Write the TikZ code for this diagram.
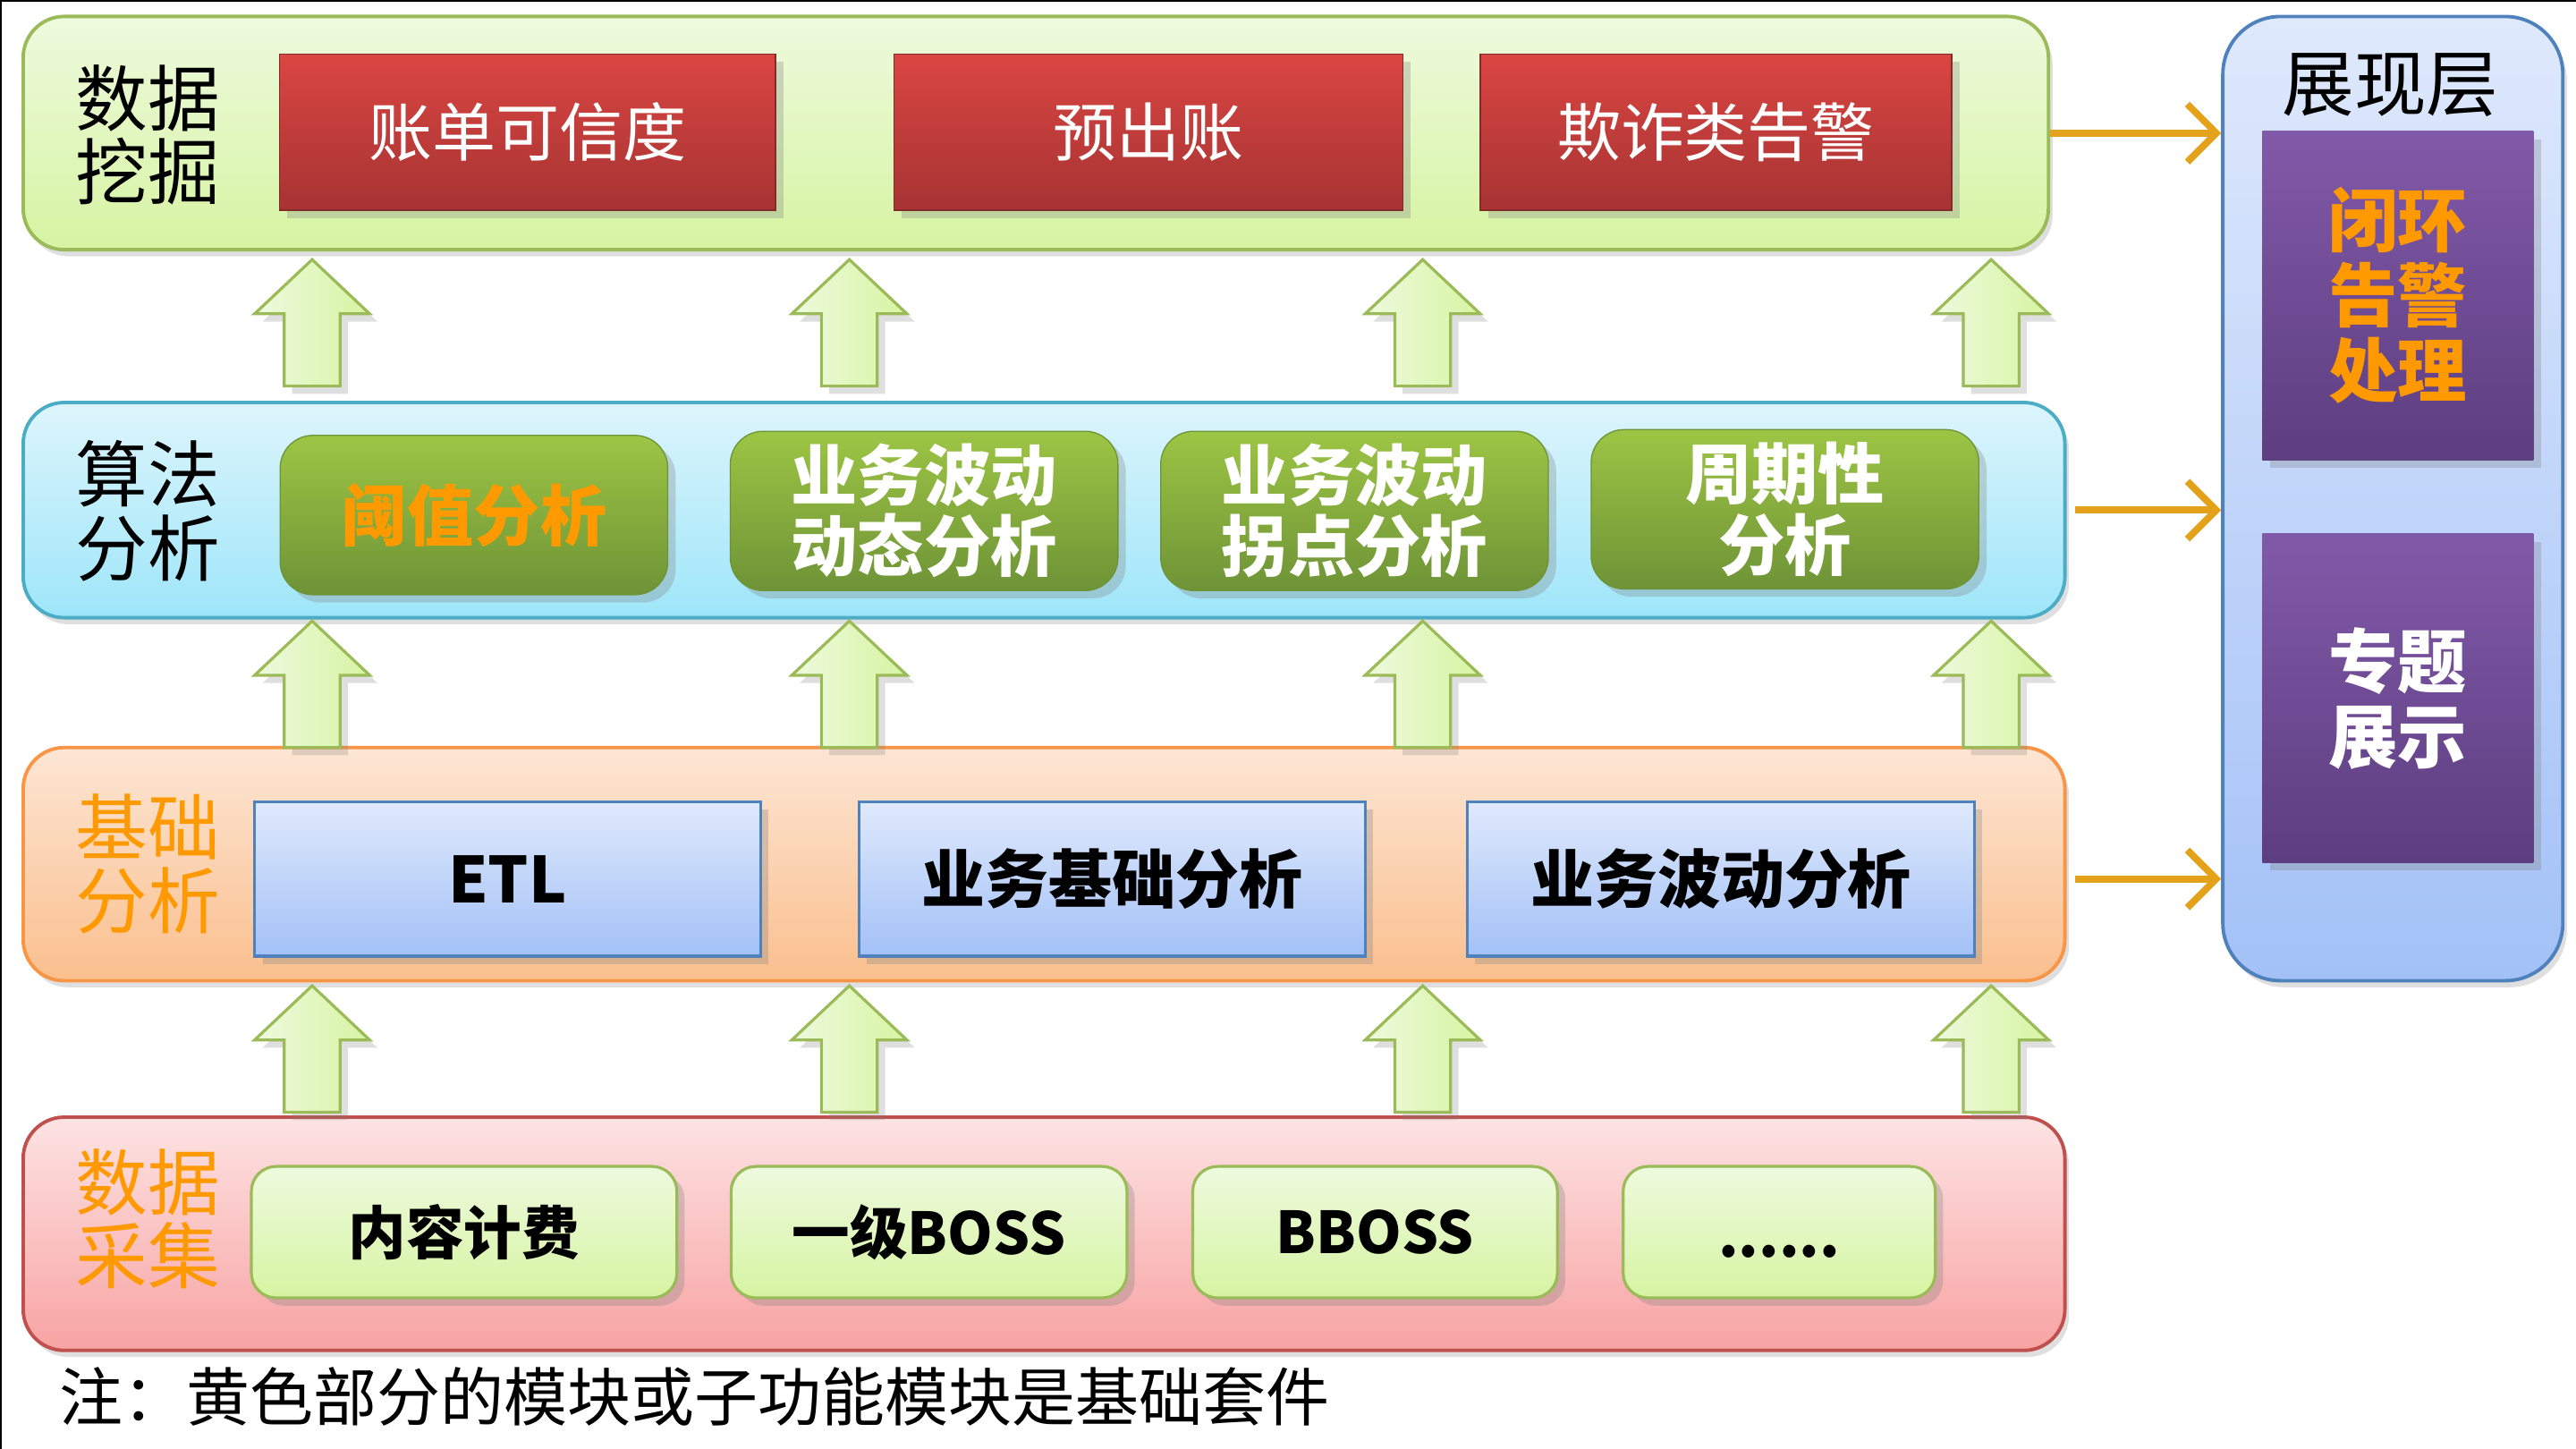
\documentclass[tikz,border=0pt]{standalone}
\usepackage{fontspec}
\setmainfont{Noto Sans CJK SC}
\usetikzlibrary{positioning, shadows, arrows.meta, calc}

\definecolor{minetop}{HTML}{EEFADE}
\definecolor{minebot}{HTML}{D6F4A2}
\definecolor{mineline}{HTML}{9BBB59}
\definecolor{redtop}{HTML}{DA4642}
\definecolor{redbot}{HTML}{A63333}
\definecolor{algotop}{HTML}{DDF5FC}
\definecolor{algobot}{HTML}{9EE6FA}
\definecolor{algoline}{HTML}{4BACC6}
\definecolor{olivetop}{HTML}{9DC544}
\definecolor{olivebot}{HTML}{6E9337}
\definecolor{baseline}{HTML}{F79646}
\definecolor{basetop}{HTML}{FDE6D4}
\definecolor{basebot}{HTML}{FABF8E}
\definecolor{bluetop}{HTML}{DFE9FC}
\definecolor{bluebot}{HTML}{A3C1F7}
\definecolor{blueline}{HTML}{4F81BD}
\definecolor{pinktop}{HTML}{FDE3E3}
\definecolor{pinkbot}{HTML}{F8A3A3}
\definecolor{pinkline}{HTML}{C0504D}
\definecolor{purptop}{HTML}{8159A9}
\definecolor{purpbot}{HTML}{5D3E80}
\definecolor{tagorange}{HTML}{FF9900}
\definecolor{goldarrow}{HTML}{E3A21A}

\begin{document}
\begin{tikzpicture}[
    x=0.02cm, y=-0.02cm,
    layer/.style={rectangle, rounded corners=0.5cm, draw, line width=1.2pt, drop shadow={opacity=0.25, shadow xshift=0.05cm, shadow yshift=-0.08cm}},
    tag/.style={align=center, font=\fontsize{25pt}{25.5pt}\selectfont},
    redbox/.style={rectangle, draw=redbot!80!black, top color=redtop, bottom color=redbot, minimum height=1.9cm, text=white, font=\fontsize{22pt}{24pt}\selectfont, drop shadow={opacity=0.3}},
    olivebox/.style={rectangle, rounded corners=0.4cm, draw=olivebot, top color=olivetop, bottom color=olivebot, minimum width=4.72cm, minimum height=1.94cm, align=center, text=white, font=\fontsize{23pt}{24.5pt}\selectfont\bfseries, drop shadow={opacity=0.3}},
    bluebox/.style={rectangle, draw=blueline, line width=1pt, top color=bluetop, bottom color=bluebot, minimum height=1.88cm, font=\fontsize{22pt}{24pt}\selectfont\bfseries, drop shadow={opacity=0.3}},
    srcbox/.style={rectangle, rounded corners=0.3cm, draw=mineline, line width=1pt, top color=minetop, bottom color=minebot, minimum height=1.6cm, font=\fontsize{20pt}{22pt}\selectfont\bfseries, drop shadow={opacity=0.3}},
    purpbox/.style={rectangle, top color=purptop, bottom color=purpbot, minimum width=3.3cm, minimum height=4cm, align=center, font=\fontsize{24pt}{26pt}\selectfont\bfseries, drop shadow={opacity=0.3}},
    feed/.style={draw=goldarrow, line width=2.4pt, -{Straight Barb[length=10pt, width=20pt, line width=2.4pt]}},
    upblock/.pic={
        \draw[draw=mineline, line width=1pt, left color=minetop, right color=minebot, drop shadow={opacity=0.25}]
            (-17,0) -- (17,0) -- (17,-44) -- (35,-44) -- (0,-77) -- (-35,-44) -- (-17,-44) -- cycle;
    }
]
    \useasboundingbox (0,0) rectangle (1568,882);
    \fill[white] (0,0) rectangle (1568,882);
    \draw[line width=1.5pt] (0,0) -- (1568,0);
    \draw[line width=1.5pt] (0,0) -- (0,882);

    % Layers
    \node [layer, draw=mineline, top color=minetop, bottom color=minebot, minimum width=24.66cm, minimum height=2.84cm] (mine) at (630.5,81) {};
    \node [layer, draw=algoline, top color=algotop, bottom color=algobot, minimum width=24.86cm, minimum height=2.62cm] (algo) at (635.5,310.5) {};
    \node [layer, draw=baseline, top color=basetop, bottom color=basebot, minimum width=24.86cm, minimum height=2.84cm] (base) at (635.5,526) {};
    \node [layer, draw=pinkline, top color=pinktop, bottom color=pinkbot, minimum width=24.86cm, minimum height=2.84cm] (collect) at (635.5,751) {};
    \node [layer, rounded corners=0.7cm, draw=blueline, top color=bluetop, bottom color=bluebot, minimum width=4.14cm, minimum height=11.74cm] (show) at (1456.5,303.5) {};

    % Layer names
    \node [tag] (minetag) at (90,82) {数据\\挖掘};
    \node [tag] (algotag) at (90,311) {算法\\分析};
    \node [tag, text=tagorange] (basetag) at (90,526) {基础\\分析};
    \node [tag, text=tagorange] (collecttag) at (90,742) {数据\\采集};
    \node [tag] (showtag) at (1455,52) {展现层};

    % Data mining
    \node [redbox, minimum width=6.04cm] (bill) at (321,80.5) {账单可信度};
    \node [redbox, minimum width=6.2cm] (prebill) at (699,80.5) {预出账};
    \node [redbox, minimum width=5.74cm] (fraud) at (1044.5,80.5) {欺诈类告警};

    % Algorithms
    \node [olivebox, text=tagorange] (thresh) at (288.5,313.5) {阈值分析};
    \node [olivebox] (dynamic) at (562.5,311) {业务波动\\动态分析};
    \node [olivebox] (turning) at (824.5,311) {业务波动\\拐点分析};
    \node [olivebox] (cycle) at (1086.5,310) {周期性\\分析};

    % Basic analysis
    \node [bluebox, minimum width=6.16cm] (etl) at (309,535) {ETL};
    \node [bluebox, minimum width=6.16cm] (bizbase) at (677,535) {业务基础分析};
    \node [bluebox, minimum width=6.18cm] (bizwave) at (1047.5,535) {业务波动分析};

    % Data sources
    \node [srcbox, minimum width=5.18cm] (content) at (282.5,750) {内容计费};
    \node [srcbox, minimum width=4.82cm] (boss) at (565.5,750) {一级BOSS};
    \node [srcbox, minimum width=4.44cm] (bboss) at (837,750) {BBOSS};
    \node [srcbox, minimum width=3.8cm] (more) at (1083,750) {\raisebox{-0.3cm}[0pt][0pt]{......}};

    % Presentation
    \node [purpbox, text=tagorange] (alarm) at (1459.5,180) {闭环\\告警\\处理};
    \node [purpbox, text=white] (topic) at (1459.5,425) {专题\\展示};

    % Note
    \node [anchor=west, font=\fontsize{22pt}{24pt}\selectfont] (note) at (30,850) {注：黄色部分的模块或子功能模块是基础套件};

    % Up arrows
    \foreach \x in {190,517,866,1212} {
        \pic at (\x,235) {upblock};
        \pic at (\x,455) {upblock};
        \pic at (\x,677) {upblock};
    }

    % Feeds to presentation
    \draw [feed] (mine.east) -- (mine.east -| show.west);
    \draw [feed] ([xshift=0.1cm]algo.east) -- (algo.east -| show.west);
    \draw [feed] ([xshift=0.1cm, yshift=-0.18cm]base.east) -- ([yshift=-0.18cm]base.east -| show.west);
\end{tikzpicture}
\end{document}
